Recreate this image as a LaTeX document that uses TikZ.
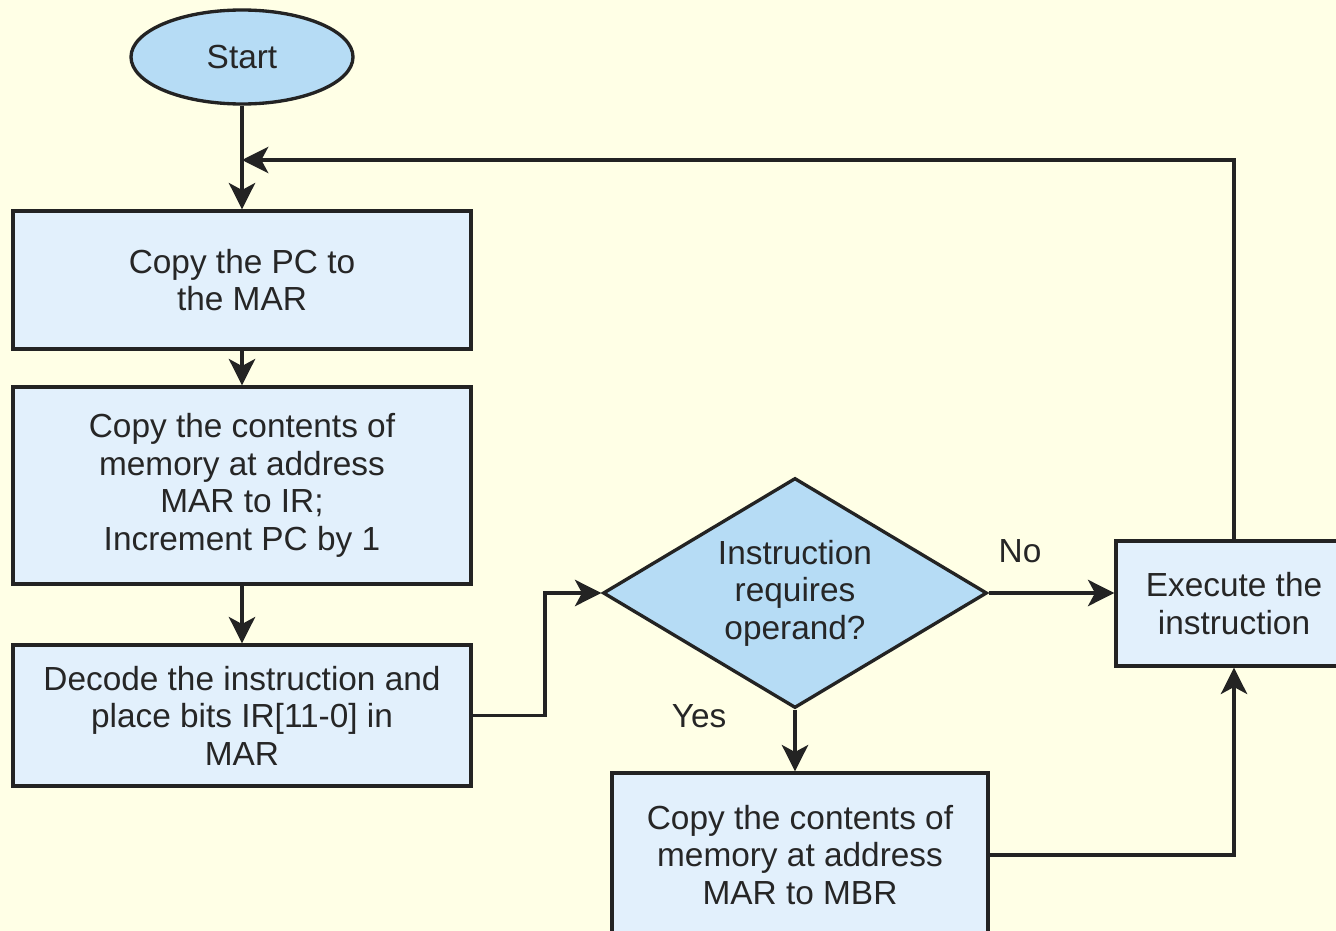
\documentclass[tikz,border=0pt]{standalone}
\usepackage{fontspec}
\setmainfont{Liberation Sans}
\usetikzlibrary{shapes.geometric,arrows.meta}
\definecolor{paper}{RGB}{255,255,230}
\definecolor{darkblue}{RGB}{182,220,245}
\definecolor{paleblue}{RGB}{226,240,252}
\definecolor{edge}{RGB}{35,35,35}
\begin{document}
\begin{tikzpicture}[line width=1.9pt,
txt/.style={font=\fontsize{19}{21.3}\selectfont, align=center, text=black!85},
box/.style={txt, rectangle, draw=edge, fill=paleblue, inner sep=0pt},
flow/.style={-{Stealth[length=15pt,width=15pt,inset=4pt]}, edge}]
\useasboundingbox (0,0) rectangle (26.72,-18.62);
\clip (0,0) rectangle (26.72,-18.62);
\fill[paper] (0,0) rectangle (26.72,-18.62);
% left column
\node[txt, ellipse, draw=edge, fill=darkblue, minimum width=4.44cm, minimum height=1.88cm] (start) at (4.84,-1.14) {Start};
\node[box, minimum width=9.16cm, minimum height=2.76cm] (copypc) at (4.84,-5.6) {Copy the PC to\\the MAR};
\node[box, minimum width=9.16cm, minimum height=3.94cm] (fetch) at (4.84,-9.71) {Copy the contents of\\memory at address\\MAR to IR;\\Increment PC by 1};
\node[box, minimum width=9.16cm, minimum height=2.82cm] (decode) at (4.84,-14.31) {Decode the instruction and\\place bits IR[11-0] in\\MAR};
% right part
\node[txt, diamond, aspect=1.67, draw=edge, fill=darkblue, inner sep=0pt, minimum width=7.68cm, minimum height=4.6cm] (test) at (15.9,-11.86) {Instruction\\requires\\operand?};
\node[box, minimum width=4.72cm, minimum height=2.5cm] (exec) at (24.68,-12.07) {Execute the\\instruction};
\node[box, minimum width=7.52cm, minimum height=3.28cm] (operand) at (16.0,-17.1) {Copy the contents of\\memory at address\\MAR to MBR};
\node[txt] (no) at (20.4,-11.02) {No};
\node[txt] (yes) at (13.98,-14.32) {Yes};
\coordinate (join) at (4.84,-3.2);
\coordinate (bend) at (10.9,-14.31);
% connectors
\draw[flow] (start) -- (copypc);
\draw[flow] (copypc) -- (fetch);
\draw[flow] (fetch) -- (decode);
\draw[flow] (decode.east) -- (bend) |- (test.west);
\draw[flow] (test.east) -- (test.east -| exec.west);
\draw[flow] (test.south) -- (test.south |- operand.north);
\draw[flow] (operand.east) -| (exec.south);
\draw[flow] (exec.north) |- (join);
\end{tikzpicture}
\end{document}
